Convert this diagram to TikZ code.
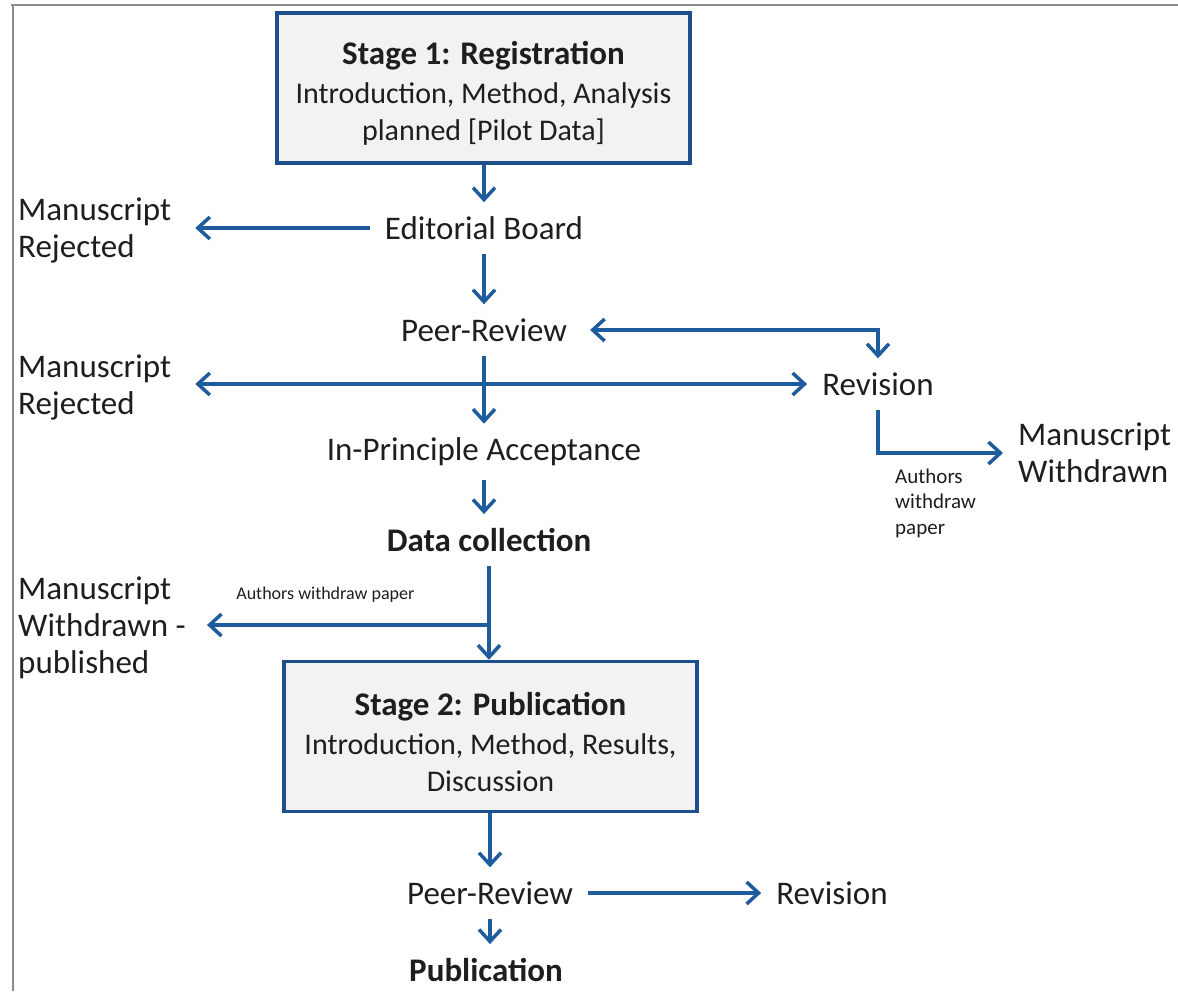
\documentclass[tikz,border=0pt]{standalone}
\usepackage{fontspec}
\setmainfont{Carlito}
\usetikzlibrary{arrows.meta,positioning}
\definecolor{flowblue}{HTML}{1F5C9E}
\definecolor{boxedge}{HTML}{1D4F8C}
\definecolor{boxfill}{HTML}{F2F2F2}
\definecolor{inktext}{HTML}{1E1E1E}
\definecolor{framegray}{HTML}{8C8C8C}
\newcommand{\flowsize}{\fontsize{33}{37}\selectfont}
\newcommand{\boxsize}{\fontsize{30}{37}\selectfont}
\newcommand{\notesize}{\fontsize{18}{22}\selectfont}
\newcommand{\sidenotesize}{\fontsize{21}{25.5}\selectfont}

\begin{document}
\begin{tikzpicture}[x=1pt, y=-1pt,
    steptext/.style={font=\flowsize, text=inktext, inner xsep=15pt, inner ysep=14pt},
    sidetext/.style={font=\flowsize, text=inktext, inner sep=0pt, align=left, anchor=west},
    stagebox/.style={draw=boxedge, line width=3.5pt, fill=boxfill, text=inktext, font=\boxsize,
        align=center, minimum width=413pt, minimum height=150pt, inner sep=0pt},
    note/.style={font=\notesize, text=inktext, inner sep=3pt},
    flow/.style={draw=flowblue, line width=3.5pt, -{Straight Barb[length=12pt,width=22pt]}},
    flowboth/.style={flow, {Straight Barb[length=12pt,width=22pt]}-{Straight Barb[length=12pt,width=22pt]}}]
    \useasboundingbox (0,0) rectangle (1178,991);
    \draw[framegray, line width=1.5pt] (11,5) -- (1178,5);
    \draw[framegray, line width=1.5pt] (13,5) -- (13,991);

    \node[stagebox] (reg) at (483.5,88) {\rule{0pt}{34pt}\textbf{\flowsize Stage 1: Registration}\\[2pt]
        Introduction, Method, Analysis\\ planned [Pilot Data]};
    \node[steptext] (board) at (484,228) {Editorial Board};
    \node[sidetext] (rej1) at (18,230) {Manuscript\\Rejected};
    \node[steptext] (peer1) at (484,330) {Peer-Review};
    \node[steptext] (rev1) at (878,384) {Revision};
    \node[sidetext] (rej2) at (18,387) {Manuscript\\Rejected};
    \node[steptext] (accept) at (484,452) {In-Principle Acceptance};
    \node[sidetext] (wdrawn) at (1018,453) {Manuscript\\Withdrawn};
    \node[note, font=\sidenotesize, align=left, anchor=west] (wdnote) at (892,503) {Authors\\withdraw\\paper};
    \node[steptext, font=\flowsize\bfseries] (collect) at (489,540) {Data collection};
    \coordinate (split) at (489,625);
    \node[sidetext] (wdpub) at (18,628) {Manuscript\\Withdrawn -\\published};
    \node[stagebox] (pubbox) at (490.5,736.5) {\rule{0pt}{34pt}\textbf{\flowsize Stage 2: Publication}\\[2pt]
        Introduction, Method, Results,\\ Discussion};
    \node[steptext] (peer2) at (490,893) {Peer-Review};
    \node[steptext] (rev2) at (832,893) {Revision};
    \node[steptext, font=\flowsize\bfseries] (final) at (486,970) {Publication};

    \draw[flow] (reg.south -| board.north) -- (board.north);
    \draw[flow, shorten >=24pt] (board.west) -- (board.west -| rej1.east);
    \draw[flow] (board.south) -- (peer1.north);
    \draw[flowboth, shorten <=8pt] (peer1.east) -| (rev1.north);
    \draw[flowboth, shorten <=24pt] (rej2.east |- rev1.west) -- (rev1.west);
    \draw[flow] (peer1.south) -- (accept.north);
    \draw[flow, shorten >=15pt] (rev1.south) |- (wdrawn.west);
    \draw[flow] (accept.south) -- (collect.north -| accept.south);
    \draw[draw=flowblue, line width=3.5pt] (collect.south) -- (split);
    \draw[flow] (split) -- (split |- pubbox.north);
    \draw[flow, shorten >=21pt] (split) -- (split -| wdpub.east)
        node[note, pos=0.54, above=18pt] {Authors withdraw paper};
    \draw[flow] (pubbox.south -| peer2) -- (peer2.north);
    \draw[flow] (peer2.east) -- (rev2.west);
    \draw[flow] (peer2.south) -- (peer2.south |- final.north);
\end{tikzpicture}
\end{document}
